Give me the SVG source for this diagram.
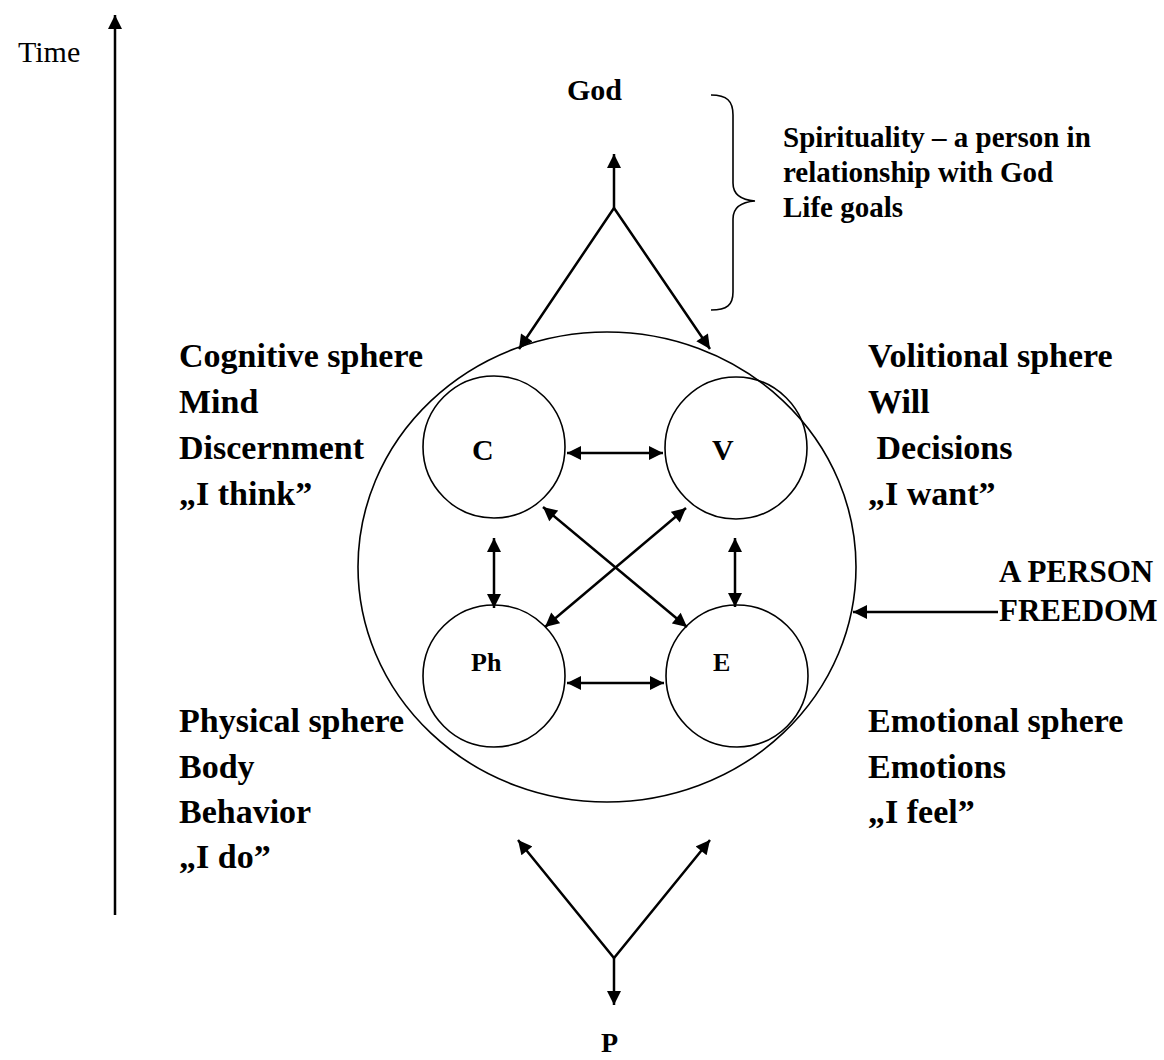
<svg xmlns="http://www.w3.org/2000/svg" width="1164" height="1060" viewBox="0 0 1164 1060">
<defs>
<marker id="ah" viewBox="0 0 10 10" refX="10" refY="5" markerWidth="15" markerHeight="14" markerUnits="userSpaceOnUse" orient="auto-start-reverse">
<path d="M0,0 L10,5 L0,10 z" fill="#000"/>
</marker>
</defs>
<style>
.t{font-family:"Liberation Serif","Times New Roman",serif;fill:#000}
.b{font-weight:bold;font-size:34px}
.s{font-weight:bold;font-size:30px}
.m{font-weight:bold;font-size:26px}
.line{stroke:#000;stroke-width:2.5;fill:none}
.ci{stroke:#000;stroke-width:1.6;fill:none}
</style>
<rect width="1164" height="1060" fill="#fff"/>

<g id="time"><text class="t" x="18" y="62" font-size="30">Time</text></g>

<g id="god"><text class="t s" x="567" y="100">God</text></g>

<g id="spirituality">
<path class="ci" d="M711,95 C727,95 733,101 733,115 L733,183 C733,195 741,200 755,201 C741,202 733,207 733,219 L733,292 C733,305 727,310 711,310"/>
<text class="t" font-weight="bold" font-size="29" x="783" y="147">Spirituality – a person in</text>
<text class="t" font-weight="bold" font-size="29" x="783" y="182">relationship with God</text>
<text class="t" font-weight="bold" font-size="29" x="783" y="217">Life goals</text>
</g>

<g id="person"><ellipse class="ci" cx="607" cy="567" rx="249" ry="235"/></g>

<g id="C"><circle class="ci" cx="494" cy="447" r="71"/><text class="t s" x="472" y="460">C</text></g>
<g id="V"><circle class="ci" cx="736" cy="448" r="71"/><text class="t s" x="712" y="460">V</text></g>
<g id="Ph"><circle class="ci" cx="494" cy="676" r="71"/><text class="t m" x="471" y="671">Ph</text></g>
<g id="E"><circle class="ci" cx="737" cy="676" r="71"/><text class="t m" x="713" y="671">E</text></g>

<g id="cognitive">
<text class="t b" x="179" y="367">Cognitive sphere</text>
<text class="t b" x="179" y="413">Mind</text>
<text class="t b" x="179" y="459">Discernment</text>
<text class="t b" x="179" y="505">„I think”</text>
</g>
<g id="volitional">
<text class="t b" x="868" y="367">Volitional sphere</text>
<text class="t b" x="868" y="413">Will</text>
<text class="t b" x="868" y="459" xml:space="preserve"> Decisions</text>
<text class="t b" x="868" y="505">„I want”</text>
</g>
<g id="physical">
<text class="t b" x="179" y="732">Physical sphere</text>
<text class="t b" x="179" y="778">Body</text>
<text class="t b" x="179" y="823">Behavior</text>
<text class="t b" x="179" y="868">„I do”</text>
</g>
<g id="emotional">
<text class="t b" x="868" y="732">Emotional sphere</text>
<text class="t b" x="868" y="778">Emotions</text>
<text class="t b" x="868" y="823">„I feel”</text>
</g>
<g id="freedom">
<text class="t" font-weight="bold" font-size="31" x="999" y="582">A PERSON</text>
<text class="t" font-weight="bold" font-size="31" x="999" y="621">FREEDOM</text>
</g>
<g id="p"><text class="t" font-weight="bold" font-size="28" x="601" y="1052">P</text></g>

<g id="connectors">
<line class="line" x1="115" y1="915" x2="115" y2="15" marker-end="url(#ah)"/>
<line class="line" x1="614" y1="208" x2="614" y2="154" marker-end="url(#ah)"/>
<polyline class="line" points="519,349 614,208 710,349" marker-start="url(#ah)" marker-end="url(#ah)"/>
<line class="line" x1="567" y1="453" x2="663" y2="453" marker-start="url(#ah)" marker-end="url(#ah)"/>
<line class="line" x1="567" y1="683" x2="664" y2="683" marker-start="url(#ah)" marker-end="url(#ah)"/>
<line class="line" x1="494" y1="538" x2="494" y2="608" marker-start="url(#ah)" marker-end="url(#ah)"/>
<line class="line" x1="735" y1="538" x2="735" y2="607" marker-start="url(#ah)" marker-end="url(#ah)"/>
<line class="line" x1="543" y1="507" x2="687" y2="627" marker-start="url(#ah)" marker-end="url(#ah)"/>
<line class="line" x1="686" y1="508" x2="545" y2="627" marker-start="url(#ah)" marker-end="url(#ah)"/>
<line class="line" x1="998" y1="612" x2="853" y2="612" marker-end="url(#ah)"/>
<polyline class="line" points="518,840 614,958 710,840" marker-start="url(#ah)" marker-end="url(#ah)"/>
<line class="line" x1="614" y1="958" x2="614" y2="1005" marker-end="url(#ah)"/>
</g>
</svg>
